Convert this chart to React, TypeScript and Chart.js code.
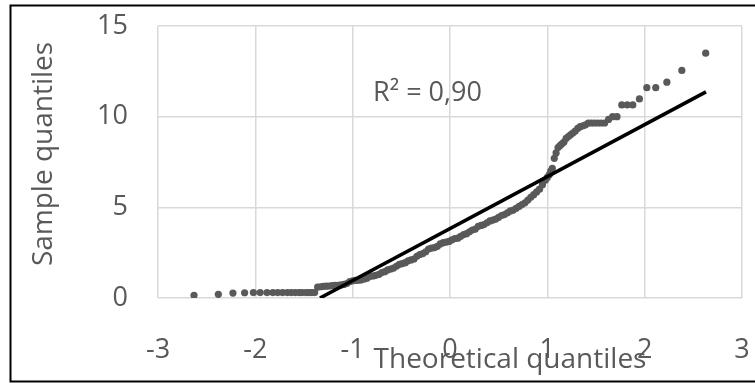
import React, { useEffect, useRef } from "react";
import { Chart, registerables } from "chart.js";

Chart.register(...registerables);

// Theoretical quantiles (x)
const theoreticalQuantiles = [
  -2.63, -2.38, -2.23, -2.11, -2.02, -1.95, -1.88, -1.82, -1.77, -1.72,
  -1.67, -1.63, -1.59, -1.55, -1.52, -1.48, -1.45, -1.42, -1.39,
  -1.36, -1.33, -1.30, -1.27, -1.24, -1.21, -1.18, -1.15, -1.12, -1.09,
  -1.06, -1.03, -1.00, -0.97, -0.94, -0.91, -0.88, -0.85, -0.82, -0.79,
  -0.76, -0.73, -0.70, -0.67, -0.64, -0.61, -0.58, -0.55, -0.52, -0.49,
  -0.46, -0.43, -0.40, -0.37, -0.34, -0.31, -0.28, -0.25, -0.22, -0.19,
  -0.16, -0.13, -0.10, -0.07, -0.04, -0.01, 0.02, 0.05, 0.08, 0.11,
  0.14, 0.17, 0.20, 0.23, 0.26, 0.29, 0.32, 0.35, 0.38, 0.41,
  0.44, 0.47, 0.50, 0.53, 0.56, 0.59, 0.62, 0.65, 0.68, 0.71,
  0.74, 0.77, 0.80, 0.83, 0.86, 0.89, 0.92, 0.95, 0.98, 1.00,
  1.02, 1.035,
  1.051, 1.071, 1.09, 1.11, 1.13, 1.15, 1.171, 1.193, 1.216, 1.238,
  1.262, 1.286, 1.312, 1.338, 1.365, 1.392, 1.421, 1.451, 1.483, 1.517,
  1.552, 1.589, 1.629, 1.671, 1.716, 1.765, 1.82, 1.878, 1.946, 2.022,
  2.114, 2.228, 2.382, 2.627,
];

// Sample quantiles (y)
const sampleQuantiles = [
  0.15, 0.2, 0.27, 0.29, 0.3, 0.3, 0.3, 0.3, 0.3, 0.3,
  0.3, 0.3, 0.3, 0.3, 0.3, 0.3, 0.3, 0.3, 0.3,
  0.6, 0.62, 0.64, 0.65, 0.66, 0.68, 0.7, 0.7, 0.72, 0.75,
  0.8, 0.9, 0.95, 0.97, 0.98, 1.0, 1.05, 1.1, 1.2, 1.22,
  1.25, 1.3, 1.4, 1.45, 1.55, 1.6, 1.65, 1.75, 1.85, 1.9,
  1.95, 2.05, 2.1, 2.15, 2.3, 2.4, 2.45, 2.55, 2.7, 2.75,
  2.78, 2.85, 2.98, 3.05, 3.08, 3.12, 3.2, 3.28, 3.3, 3.4,
  3.5, 3.55, 3.65, 3.75, 3.8, 3.95, 4.0, 4.05, 4.15, 4.25,
  4.3, 4.35, 4.45, 4.55, 4.6, 4.7, 4.8, 4.85, 4.95, 5.05,
  5.15, 5.25, 5.4, 5.55, 5.7, 5.85, 6.0, 6.25, 6.5, 6.65,
  6.8, 7.0,
  7.15, 7.7, 8.0, 8.3, 8.4, 8.5, 8.6, 8.8, 8.9, 9.0,
  9.1, 9.2, 9.35, 9.45, 9.5, 9.55, 9.65, 9.65, 9.65, 9.65,
  9.65, 9.65, 9.85, 10.0, 10.0, 10.65, 10.65, 10.65, 10.98, 11.6,
  11.6, 11.9, 12.55, 13.5,
];

// Linear trendline endpoints (as drawn)
const trendX = [-1.336, 2.63];
const trendY = [0, 11.37];

const xAxisMin = -3;
const xAxisMax = 3;
const yAxisMin = 0;
const yAxisMax = 15;

const rSquaredLabel = "R² = 0,90";
const xTitle = "Theoretical quantiles";
const yTitle = "Sample quantiles";

const FONT = "'Open Sans', sans-serif";
const GRAY = "#595959";

export default function App() {
  const ref = useRef<HTMLCanvasElement>(null);

  useEffect(() => {
    if (!ref.current) return;

    const textPlugin = {
      id: "excelTexts",
      afterDraw(chart: any) {
        const { ctx, scales } = chart;
        ctx.save();
        // outer frame
        ctx.strokeStyle = "#000000";
        ctx.lineWidth = 2;
        ctx.strokeRect(10.5, 5.5, 770, 376);

        ctx.fillStyle = GRAY;
        // R² label
        ctx.font = `27px ${FONT}`;
        ctx.textAlign = "left";
        ctx.textBaseline = "alphabetic";
        ctx.fillText(
          rSquaredLabel,
          scales.x.getPixelForValue(-0.79),
          scales.y.getPixelForValue(10.87)
        );
        // x title
        ctx.font = `28px ${FONT}`;
        ctx.textAlign = "center";
        ctx.fillText(xTitle, 510, 368);
        // y title
        ctx.translate(52, 154);
        ctx.rotate(-Math.PI / 2);
        ctx.fillText(yTitle, 0, 0);
        ctx.restore();
      },
    };

    const zeroPadding = (scale: any) => {
      scale.paddingLeft = 0;
      scale.paddingRight = 0;
      scale.paddingTop = 0;
      scale.paddingBottom = 0;
    };

    const chart = new Chart(ref.current, {
      type: "scatter",
      data: {
        datasets: [
          {
            type: "line",
            label: "Trendline",
            data: trendX.map((x, i) => ({ x, y: trendY[i] })),
            borderColor: "#000000",
            borderWidth: 3.6,
            pointRadius: 0,
            fill: false,
            order: 0,
          } as any,
          {
            label: "Sample",
            data: theoreticalQuantiles.map((x, i) => ({ x, y: sampleQuantiles[i] })),
            backgroundColor: GRAY,
            borderWidth: 0,
            pointRadius: 3.6,
            order: 1,
          },
        ],
      },
      options: {
        animation: false,
        responsive: false,
        devicePixelRatio: 1,
        layout: { padding: { left: 10, top: 26, right: 13, bottom: 0 } },
        plugins: {
          legend: { display: false },
          tooltip: { enabled: false },
          title: { display: false },
        },
        scales: {
          x: {
            type: "linear",
            min: xAxisMin,
            max: xAxisMax,
            afterFit: (scale: any) => {
              scale.height = 85;
              zeroPadding(scale);
            },
            border: { display: false },
            grid: { color: "#d9d9d9", lineWidth: 1.5, drawTicks: false },
            ticks: {
              stepSize: 1,
              padding: 36,
              color: GRAY,
              font: { family: FONT, size: 27 },
              callback: (v: any) => String(v),
            },
          },
          y: {
            type: "linear",
            min: yAxisMin,
            max: yAxisMax,
            afterFit: (scale: any) => {
              scale.width = 148;
              zeroPadding(scale);
            },
            border: { display: false },
            grid: { color: "#d9d9d9", lineWidth: 1.5, drawTicks: false },
            ticks: {
              stepSize: 5,
              padding: 30,
              color: GRAY,
              font: { family: FONT, size: 27 },
              callback: (v: any) => String(v),
            },
          },
        },
      },
      plugins: [textPlugin],
    });

    return () => chart.destroy();
  }, []);

  return (
    <div style={{ position: "absolute", left: 0, top: 0, width: 755, height: 383, background: "#ffffff" }}>
      <canvas ref={ref} width={755} height={383} style={{ display: "block" }} />
    </div>
  );
}
